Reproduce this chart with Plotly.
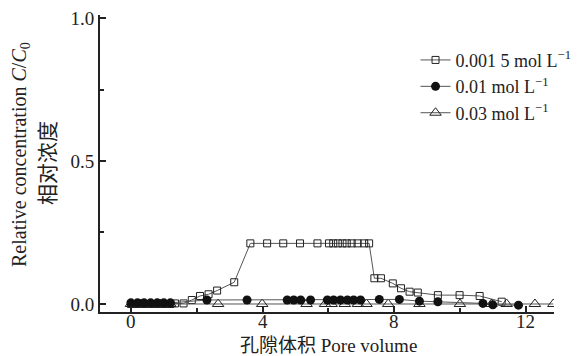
import plotly.graph_objects as go

# Pore volume (x) and relative concentration C/C0 (y) for each ionic strength
pv_0015 = [0.0, 0.2, 0.4, 0.6, 0.8, 1.0, 1.2, 1.34, 1.6, 1.85, 2.1, 2.36, 2.62, 3.14,
           3.63, 4.14, 4.63, 5.14, 5.67, 6.02, 6.15, 6.29, 6.43, 6.56, 6.71, 6.89, 7.09, 7.24,
           7.40, 7.60, 7.96, 8.21, 8.47, 8.72, 9.33, 9.99, 10.6, 11.27]
c_0015 = [0.0, 0.0, 0.0, 0.0, 0.0, 0.0, 0.0, 0.002, 0.002, 0.014, 0.028, 0.034, 0.047, 0.076,
          0.212, 0.212, 0.212, 0.212, 0.212, 0.212, 0.212, 0.212, 0.212, 0.212, 0.212, 0.212, 0.212, 0.212,
          0.09, 0.09, 0.072, 0.055, 0.043, 0.040, 0.031, 0.031, 0.028, 0.008]

pv_001 = [0.0, 0.2, 0.4, 0.6, 0.8, 1.0, 1.2, 2.31, 3.53, 4.75, 4.95, 5.16, 5.46,
          5.97, 6.16, 6.37, 6.58, 6.77, 6.98, 7.55, 8.16, 8.77, 9.33, 10.7, 11.0, 11.78]
c_001 = [0.004, 0.004, 0.004, 0.004, 0.004, 0.004, 0.004, 0.014, 0.014, 0.014, 0.014, 0.014, 0.014,
         0.014, 0.014, 0.014, 0.014, 0.014, 0.014, 0.016, 0.016, 0.010, 0.008, 0.002, -0.003, -0.004]

pv_003 = [0.0, 0.3, 0.6, 0.9, 1.2, 2.65, 3.99, 5.34, 5.9, 6.1, 6.5, 6.9, 7.16,
          7.82, 8.77, 10.0, 10.96, 11.42, 12.28, 12.84]
c_003 = [0.0, 0.0, 0.0, 0.0, 0.0, 0.0, 0.0, 0.0, 0.0, 0.0, 0.0, 0.0, 0.0,
         0.0, 0.0, 0.0, 0.0, 0.0, 0.0, 0.0]

series_names = ["0.001 5 mol L<sup>−1</sup>", "0.01 mol L<sup>−1</sup>", "0.03 mol L<sup>−1</sup>"]

x_ticks = [0, 4, 8, 12]
x_tick_text = ["0", "4", "8", "12"]
y_ticks = [0.0, 0.5, 1.0]
y_tick_text = ["0.0", "0.5", "1.0"]

SERIF = "Liberation Serif"
INK = "#222222"
LINE = dict(color="#555555", width=1)

fig = go.Figure()
fig.add_trace(go.Scatter(
    x=pv_0015, y=c_0015, name=series_names[0], mode="lines+markers", line=LINE,
    legendrank=1,
    marker=dict(symbol="square-open", size=7, color=INK, line=dict(width=1))))
fig.add_trace(go.Scatter(
    x=pv_003, y=c_003, name=series_names[2], mode="lines+markers", line=LINE,
    legendrank=3,
    marker=dict(symbol="triangle-up-open", size=10, color=INK, line=dict(width=1))))
fig.add_trace(go.Scatter(
    x=pv_001, y=c_001, name=series_names[1], mode="lines+markers", line=LINE,
    legendrank=2,
    marker=dict(symbol="circle", size=9, color="#111111")))

fig.update_layout(
    width=588, height=356,
    margin=dict(l=100, r=34, t=15, b=44, autoexpand=False),
    paper_bgcolor="white", plot_bgcolor="white",
    font=dict(family=SERIF, size=19, color=INK),
    showlegend=True,
    legend=dict(x=0.695, y=0.91, xanchor="left", yanchor="top",
                font=dict(family=SERIF, size=18, color=INK),
                bgcolor="rgba(0,0,0,0)", traceorder="normal", tracegroupgap=0,
                itemwidth=30),
    xaxis=dict(range=[-0.94, 12.86], tickvals=x_ticks, ticks="inside", ticklen=6,
               tickwidth=1.5, tickcolor=INK, showline=True, linecolor=INK,
               linewidth=2, showgrid=False, zeroline=False, mirror=False,
               showticklabels=False,
               minor=dict(tickvals=[2, 6, 10], ticks="inside", ticklen=4,
                          tickcolor=INK, showgrid=False)),
    yaxis=dict(range=[-0.028, 1.0105], tickvals=y_ticks, ticktext=y_tick_text,
               ticks="inside", ticklen=6, tickwidth=1.5, tickcolor=INK,
               showline=True, linecolor=INK, linewidth=2, showgrid=False,
               zeroline=False, tickfont=dict(family=SERIF, size=19, color=INK),
               minor=dict(tickvals=[0.25, 0.75], ticks="inside", ticklen=4,
                          tickcolor=INK, showgrid=False)),
)

# x tick labels sit close under the axis line
for xv, lab in zip(x_ticks, x_tick_text):
    fig.add_annotation(text=lab, xref="x", yref="paper", x=xv, y=0, yshift=-9,
                       showarrow=False, xanchor="center", yanchor="middle",
                       borderpad=0, font=dict(family=SERIF, size=19, color=INK))

fig.add_annotation(text="<span style='font-family:Noto Sans CJK SC'>孔隙体积</span> Pore volume",
                   xref="paper", yref="paper",
                   x=(328 - 100) / 454, y=0.0, yshift=-31, showarrow=False,
                   xanchor="center", yanchor="middle", borderpad=0,
                   font=dict(family=SERIF, size=19, color=INK))
fig.add_annotation(text="Relative concentration <i>C</i>/<i>C</i><sub>0</sub>",
                   xref="paper", yref="paper", x=0, xshift=-80,
                   y=(312 - 155) / 297, textangle=-90, showarrow=False,
                   xanchor="center", yanchor="middle",
                   font=dict(family=SERIF, size=20, color=INK))
fig.add_annotation(text="相对浓度", xref="paper", yref="paper", x=0, xshift=-54,
                   y=(312 - 163) / 297, textangle=-90, showarrow=False,
                   xanchor="center", yanchor="middle",
                   font=dict(family="Noto Sans CJK SC", size=21, color=INK))

fig.write_html("out.html")
